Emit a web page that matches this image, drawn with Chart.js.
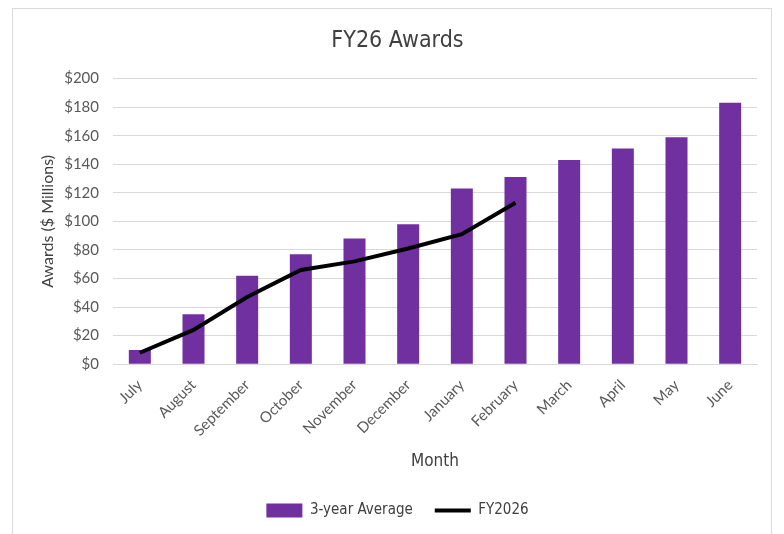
<!DOCTYPE html>
<html>
<head>
<meta charset="utf-8">
<script src="https://cdn.jsdelivr.net/npm/chart.js@4"></script>
<style>
  html, body { margin: 0; padding: 0; background: #fff; }
  #frame {
    position: absolute; left: 12px; top: 8px;
    width: 760px; height: 540px;
    border: 1px solid #d9d9d9; box-sizing: border-box;
  }
  #chart { display: block; }
</style>
</head>
<body>
<div id="frame"><canvas id="chart" width="758" height="526"></canvas></div>
<script>
let months = ["July", "August", "September", "October", "November", "December",
    "January", "February", "March", "April", "May", "June"];

let avgAwards = [10, 35, 62, 77, 88, 98, 123, 131, 143, 151, 159, 183];

let fy2026Awards = [8, 24, 47, 66, 72, 81, 91, 113, null, null, null, null];

let yTicks = [0, 20, 40, 60, 80, 100, 120, 140, 160, 180, 200];

let purple = "rgb(112, 48, 160)";
let greyText = "#595959";
let narrow = "'DejaVu Sans Condensed', 'Roboto Condensed', Roboto, sans-serif";

/////////// AWARDS GRAPH /////////////

let awardsData = {
    labels: months,
    datasets: [
        {
            type: "line",
            label: "FY2026",
            data: fy2026Awards,
            borderColor: "#000000",
            backgroundColor: "#000000",
            borderWidth: 4,
            pointRadius: 0,
            pointStyle: "line",
            tension: 0,
            order: 0,
            spanGaps: false,
        },
        {
            type: "bar",
            label: "3-year Average",
            data: avgAwards,
            backgroundColor: purple,
            pointStyle: "rect",
            barPercentage: 0.41,
            categoryPercentage: 1,
            order: 1,
        },
    ],
};

let awardsOptions = {
    responsive: false,
    animation: false,
    layout: {
        padding: { top: 0, left: 25, right: 14, bottom: 7 },
    },
    scales: {
        x: {
            grid: { display: false },
            border: { color: "#d9d9d9" },
            ticks: {
                color: greyText,
                font: { family: "Lato", size: 15 },
                minRotation: 45,
                maxRotation: 45,
                padding: 4,
            },
            title: {
                display: true,
                text: "Month",
                color: "#404040",
                font: { family: narrow, size: 17 },
                padding: { top: 8, bottom: 9 },
            },
        },
        y: {
            min: 0,
            max: 200,
            afterBuildTicks: (scale) => {
                scale.ticks = yTicks.map((v) => ({ value: v }));
            },
            grid: { color: "#d9d9d9", drawTicks: false },
            border: { display: false },
            ticks: {
                color: greyText,
                font: { family: "Lato", size: 15 },
                padding: 14,
                callback: (v) => "$" + v,
            },
            title: {
                display: true,
                text: "Awards ($ Millions)",
                color: "#404040",
                font: { family: "Lato", size: 16 },
                padding: { top: 0, bottom: 4 },
            },
            afterFit: (scale) => {
                scale.width = 75;
            },
        },
    },
    plugins: {
        title: {
            display: true,
            text: "FY26 Awards",
            color: "#404040",
            font: { family: narrow, size: 23, weight: "normal" },
            padding: { top: 18, bottom: 24 },
        },
        legend: {
            position: "bottom",
            reverse: true,
            labels: {
                usePointStyle: true,
                pointStyleWidth: 36,
                boxHeight: 14,
                color: "#404040",
                font: { family: narrow, size: 15 },
                padding: 22,
            },
        },
        tooltip: { enabled: false },
    },
};

let awardsGraph = new Chart(document.getElementById("chart"), {
    data: awardsData,
    options: awardsOptions,
});
</script>
</body>
</html>
